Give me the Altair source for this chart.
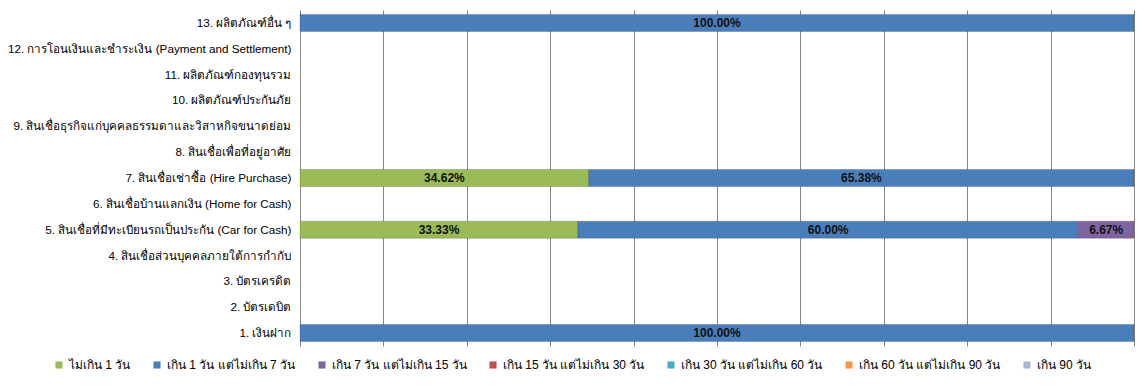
import altair as alt
import pandas as pd

categories = [
    "1. เงินฝาก",
    "2. บัตรเดบิต",
    "3. บัตรเครดิต",
    "4. สินเชื่อส่วนบุคคลภายใต้การกำกับ",
    "5. สินเชื่อที่มีทะเบียนรถเป็นประกัน (Car for Cash)",
    "6. สินเชื่อบ้านแลกเงิน (Home for Cash)",
    "7. สินเชื่อเช่าซื้อ (Hire Purchase)",
    "8. สินเชื่อเพื่อที่อยู่อาศัย",
    "9. สินเชื่อธุรกิจแก่บุคคลธรรมดาและวิสาหกิจขนาดย่อม",
    "10. ผลิตภัณฑ์ประกันภัย",
    "11. ผลิตภัณฑ์กองทุนรวม",
    "12. การโอนเงินและชำระเงิน (Payment and Settlement)",
    "13. ผลิตภัณฑ์อื่น ๆ",
]

series_names = [
    "ไม่เกิน 1 วัน",
    "เกิน 1 วัน แต่ไม่เกิน 7 วัน",
    "เกิน 7 วัน แต่ไม่เกิน 15 วัน",
    "เกิน 15 วัน แต่ไม่เกิน 30 วัน",
    "เกิน 30 วัน แต่ไม่เกิน 60 วัน",
    "เกิน 60 วัน แต่ไม่เกิน 90 วัน",
    "เกิน 90 วัน",
]

s1 = [0, 0, 0, 0, 33.33, 0, 34.62, 0, 0, 0, 0, 0, 0]
s2 = [100, 0, 0, 0, 60.00, 0, 65.38, 0, 0, 0, 0, 0, 100]
s3 = [0, 0, 0, 0, 6.67, 0, 0, 0, 0, 0, 0, 0, 0]
s4 = [0] * 13
s5 = [0] * 13
s6 = [0] * 13
s7 = [0] * 13

colors = ["#9BBB59", "#4A7EBB", "#8064A2", "#C0504D", "#4BACC6", "#F79646", "#A5B6D6"]

rows = []
for si, (name, vals) in enumerate(zip(series_names, [s1, s2, s3, s4, s5, s6, s7])):
    for cat, v in zip(categories, vals):
        if v > 0:
            rows.append({"cat": cat, "series": name, "order": si, "value": v})
df = pd.DataFrame(rows)

FONT = "'Liberation Sans', Tahoma, sans-serif"

y_enc = alt.Y(
    "cat:N",
    sort=categories[::-1],
    scale=alt.Scale(domain=categories[::-1], paddingInner=0.34, paddingOuter=0.17),
    axis=alt.Axis(
        title=None, ticks=False, labelPadding=9, labelFontSize=11.7, labelColor="#000000",
        labelFont=FONT, domainColor="#868686", labelLimit=400, grid=False,
    ),
)

base = alt.Chart(df).transform_stack(
    stack="value", groupby=["cat"], as_=["x0", "x1"], sort=[alt.SortField("order")]
)

bars = base.mark_bar(stroke="#000000", strokeOpacity=0.18, strokeWidth=1).encode(
    y=y_enc,
    x=alt.X(
        "x0:Q",
        scale=alt.Scale(domain=[0, 100], nice=False),
        axis=alt.Axis(
            title=None, labels=False, ticks=False, domain=False, grid=True,
            values=list(range(0, 101, 10)), gridColor="#868686", gridWidth=1,
        ),
    ),
    x2="x1:Q",
    color=alt.Color(
        "series:N",
        scale=alt.Scale(domain=series_names, range=colors),
        legend=alt.Legend(
            title=None, orient="none", direction="horizontal", columns=7,
            legendX=-247, legendY=349, symbolType="square", symbolSize=50,
            symbolStrokeWidth=0, labelFontSize=12, labelFont=FONT, labelColor="#000000",
            columnPadding=20, labelOffset=4, labelLimit=300, gridAlign="none",
        ),
    ),
)

labels = base.transform_calculate(
    mid="(datum.x0 + datum.x1) / 2",
    lbl="format(datum.value, '.2f') + '%'",
).mark_text(fontWeight="bold", fontSize=12, font=FONT, color="#111111").encode(
    y=alt.Y("cat:N", sort=categories[::-1], scale=alt.Scale(domain=categories[::-1])),
    x=alt.X("mid:Q"),
    text="lbl:N",
)

chart = (
    alt.layer(bars, labels)
    .properties(
        width=834, height=336,
        autosize=alt.AutoSizeParams(type="none"),
        padding={"left": 292, "top": 2, "right": 3, "bottom": 32},
        background="#ffffff",
    )
    .configure_view(stroke=None)
)

chart.save("out.html", embed_options={"renderer": "svg", "actions": False})
